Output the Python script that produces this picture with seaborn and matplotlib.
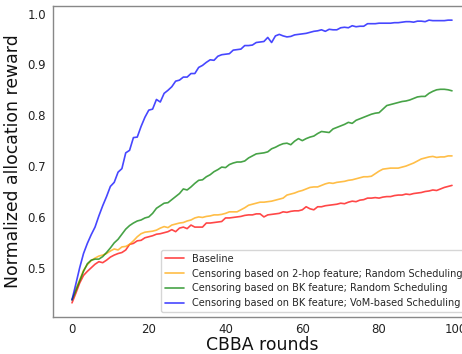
import numpy as np
import pandas as pd
import matplotlib
matplotlib.use("Agg")
import matplotlib.pyplot as plt
import seaborn as sns

rounds = list(range(100))

baseline = [
    0.431, 0.450, 0.470, 0.485, 0.493, 0.500, 0.507, 0.512, 0.510, 0.515,
    0.521, 0.525, 0.528, 0.530, 0.535, 0.546, 0.548, 0.553, 0.554, 0.559,
    0.561, 0.563, 0.566, 0.567, 0.569, 0.571, 0.575, 0.571, 0.578, 0.580,
    0.577, 0.584, 0.580, 0.580, 0.580, 0.588, 0.588, 0.589, 0.590, 0.591,
    0.598, 0.598, 0.599, 0.600, 0.601, 0.603, 0.604, 0.604, 0.606, 0.606,
    0.600, 0.604, 0.605, 0.606, 0.607, 0.610, 0.609, 0.611, 0.612, 0.612,
    0.614, 0.620, 0.616, 0.614, 0.620, 0.620, 0.622, 0.623, 0.624, 0.625,
    0.627, 0.626, 0.629, 0.631, 0.630, 0.633, 0.634, 0.637, 0.637, 0.638,
    0.637, 0.639, 0.640, 0.640, 0.642, 0.643, 0.643, 0.645, 0.644, 0.646,
    0.647, 0.648, 0.650, 0.651, 0.653, 0.652, 0.655, 0.658, 0.660, 0.662,
]

two_hop_random = [
    0.437, 0.458, 0.476, 0.495, 0.506, 0.514, 0.519, 0.523, 0.525, 0.528,
    0.533, 0.537, 0.535, 0.541, 0.542, 0.546, 0.553, 0.561, 0.567, 0.570,
    0.571, 0.572, 0.574, 0.578, 0.581, 0.579, 0.584, 0.586, 0.588, 0.589,
    0.592, 0.594, 0.598, 0.600, 0.599, 0.601, 0.602, 0.604, 0.604, 0.605,
    0.607, 0.610, 0.610, 0.610, 0.614, 0.618, 0.623, 0.625, 0.627, 0.629,
    0.629, 0.630, 0.631, 0.633, 0.635, 0.637, 0.643, 0.645, 0.647, 0.650,
    0.652, 0.655, 0.658, 0.659, 0.659, 0.662, 0.665, 0.667, 0.666, 0.668,
    0.669, 0.670, 0.672, 0.673, 0.675, 0.677, 0.679, 0.679, 0.680, 0.685,
    0.690, 0.694, 0.695, 0.696, 0.696, 0.696, 0.698, 0.700, 0.703, 0.706,
    0.710, 0.714, 0.716, 0.718, 0.719, 0.717, 0.718, 0.718, 0.720, 0.720,
]

bk_random = [
    0.437, 0.455, 0.474, 0.493, 0.508, 0.515, 0.517, 0.517, 0.522, 0.530,
    0.539, 0.549, 0.556, 0.566, 0.576, 0.583, 0.588, 0.592, 0.594, 0.598,
    0.600, 0.607, 0.617, 0.622, 0.627, 0.628, 0.634, 0.640, 0.646, 0.655,
    0.653, 0.659, 0.666, 0.672, 0.673, 0.679, 0.683, 0.689, 0.693, 0.698,
    0.697, 0.703, 0.706, 0.708, 0.708, 0.710, 0.716, 0.720, 0.724, 0.725,
    0.726, 0.728, 0.734, 0.737, 0.741, 0.744, 0.745, 0.742, 0.749, 0.754,
    0.750, 0.754, 0.757, 0.759, 0.764, 0.768, 0.767, 0.766, 0.773, 0.776,
    0.779, 0.782, 0.786, 0.784, 0.790, 0.793, 0.796, 0.799, 0.802, 0.804,
    0.805, 0.812, 0.819, 0.821, 0.823, 0.825, 0.827, 0.828, 0.830, 0.833,
    0.836, 0.837, 0.837, 0.843, 0.847, 0.850, 0.851, 0.851, 0.850, 0.848,
]

bk_vom = [
    0.437, 0.468, 0.500, 0.528, 0.548, 0.565, 0.580, 0.602, 0.622, 0.640,
    0.660, 0.668, 0.688, 0.695, 0.726, 0.731, 0.756, 0.757, 0.778, 0.796,
    0.810, 0.812, 0.831, 0.826, 0.843, 0.849, 0.856, 0.867, 0.869, 0.875,
    0.875, 0.882, 0.882, 0.894, 0.898, 0.904, 0.909, 0.908, 0.916, 0.919,
    0.920, 0.921, 0.928, 0.929, 0.930, 0.937, 0.937, 0.938, 0.943, 0.944,
    0.945, 0.953, 0.943, 0.956, 0.959, 0.956, 0.954, 0.955, 0.958, 0.959,
    0.960, 0.961, 0.963, 0.965, 0.966, 0.968, 0.965, 0.969, 0.968, 0.968,
    0.972, 0.973, 0.972, 0.976, 0.974, 0.975, 0.975, 0.980, 0.980, 0.980,
    0.981, 0.981, 0.981, 0.981, 0.982, 0.982, 0.983, 0.984, 0.984, 0.983,
    0.985, 0.985, 0.984, 0.987, 0.986, 0.986, 0.986, 0.986, 0.987, 0.987,
]

series_names = [
    "Baseline",
    "Censoring based on 2-hop feature; Random Scheduling",
    "Censoring based on BK feature; Random Scheduling",
    "Censoring based on BK feature; VoM-based Scheduling",
]
series_values = [baseline, two_hop_random, bk_random, bk_vom]
series_colors = ["red", "orange", "green", "blue"]

frames = []
for name, vals in zip(series_names, series_values):
    frames.append(pd.DataFrame({"round": rounds, "reward": vals, "method": name}))
df = pd.concat(frames, ignore_index=True)

sns.set_style("white")
plt.rcParams["font.family"] = ["DejaVu Sans"]

fig = plt.figure(figsize=(4.62, 3.54), dpi=100)
ax = fig.add_axes([53 / 462, 37 / 354, 418 / 462, 311 / 354])

sns.lineplot(
    data=df, x="round", y="reward", hue="method",
    hue_order=series_names, palette=dict(zip(series_names, series_colors)),
    linewidth=1.2, alpha=0.72, ax=ax,
)

ax.set_xticks([0, 20, 40, 60, 80, 100])
ax.set_yticks([0.5, 0.6, 0.7, 0.8, 0.9, 1.0])
ax.set_xlabel("CBBA rounds", fontsize=12.4, color="#111111", labelpad=0.5)
ax.set_ylabel("Normalized allocation reward", fontsize=12.4, color="#111111", labelpad=4)
ax.tick_params(axis="x", labelsize=8.5, colors="#222222", length=0, pad=4)
ax.tick_params(axis="y", labelsize=8.5, colors="#222222", length=0, pad=5)
for s in ax.spines.values():
    s.set_color("#888888")
    s.set_linewidth(1.0)

leg = ax.legend(loc="lower right", fontsize=7, frameon=True)
leg.get_frame().set_edgecolor("#cccccc")

fig.savefig("out.png", dpi=100)
